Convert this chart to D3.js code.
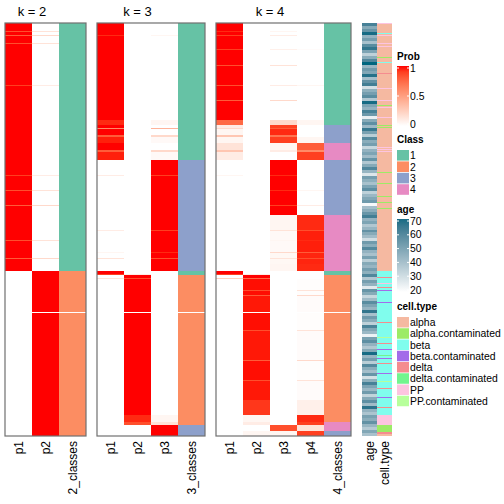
<!DOCTYPE html>
<html><head><meta charset="utf-8">
<script src="https://cdn.jsdelivr.net/npm/d3@7"></script>
<style>body{margin:0;background:#fff}svg text{font-family:"Liberation Sans",Arial,sans-serif}</style>
</head><body><svg id="c" width="504" height="504"></svg>
<script>
// ---- data ----
const blockRows = [8,1,3,1,7,1,5,1,15,1,19,1,14,1,19,5,3,1,6,2,6,7,2,8,15,1,14,1,14,1,9,15,1,9,1,11,1,5,1,5,7,3,1,3,1,11,1,4,1,16,1,17,1,29,1,19,1,19,15,7,3,6,5];
const class2 = [1,1,1,1,1,1,1,1,1,1,1,1,1,1,1,1,1,1,1,1,1,1,1,1,1,1,1,1,1,1,1,1,1,1,1,1,1,1,1,1,1,2,2,2,2,2,2,2,2,2,0,2,2,2,2,2,2,2,2,2,2,2,2];
const class3 = [1,1,1,1,1,1,1,1,1,1,1,1,1,1,1,1,1,1,1,1,1,1,1,1,3,3,3,3,3,3,3,3,3,3,3,3,3,3,3,3,3,1,1,2,2,2,2,2,2,2,0,2,2,2,2,2,2,2,2,2,2,3,3];
const class4 = [1,1,1,1,1,1,1,1,1,1,1,1,1,1,1,1,3,3,3,3,3,4,4,4,3,3,3,3,3,3,3,4,4,4,4,4,4,4,4,4,4,1,1,2,2,2,2,2,2,2,0,2,2,2,2,2,2,2,2,2,4,4,3,4];
const prob2 = [[1,0],[.85,.15],[1,0],[.8,.2],[1,0],[.85,.15],[1,0],[1,0],[1,0],[1,0],[1,0],[.9,.1],[1,0],[1,0],[1,0],[1,0],
 [1,0],[1,0],[1,0],[1,0],[1,0],[1,0],[1,0],[1,0],[1,0],[.9,.1],[1,0],[.85,.15],[1,0],[.8,.2],[1,0],
 [1,0],[1,0],[1,0],[.85,.15],[1,0],[1,0],[1,0],[.8,.2],[1,0],[1,0],
 [0,1],[0,1],[0,1],[0,1],[0,1],[0,1],[0,1],[0,1],[0,1],[0,0],[0,1],[0,1],[0,1],[0,1],[0,1],[0,1],[0,1],[0,1],[0,1],[0,1],[0,1],[0,1]];
const prob3 = [[1,0,0],[1,0,0],[1,0,0],[.95,0,.05],[1,0,0],[1,0,0],[1,0,0],[1,0,0],[1,0,0],[1,0,0],[1,0,0],[1,0,0],[1,0,0],[1,0,0],[1,0,0],[.95,0,.05],
 [1,0,0],[.6,0,.4],[1,0,0],[.8,0,.2],[.97,0,.03],[1,0,0],[.8,0,.2],[.97,0,.03],
 [0,0,1],[.1,0,.9],[0,0,1],[0,0,1],[0,0,1],[0,0,1],[0,0,1],[0,0,1],[.1,0,.9],[0,0,1],[0,0,1],[0,0,1],[.05,0,.95],[0,0,1],[.15,0,.85],[0,0,1],[0,0,1],
 [1,0,0],[.9,.1,0],
 [0,1,0],[.15,.85,0],[0,1,0],[0,1,0],[0,1,0],[0,1,0],[0,1,0],[0,0,0],[0,1,0],[0,1,0],[0,1,0],[0,1,0],[0,1,0],[0,1,0],[0,1,0],[0,1,0],[0,.95,.05],[0,.85,.15],
 [0,0,1],[0,0,1]];
const prob4 = [[1,0,0,0],[.95,0,.05,0],[1,0,0,0],[.9,0,.1,0],[1,0,0,0],[1,0,0,0],[1,0,0,0],[.9,0,.08,.02],[1,0,0,0],[.85,0,.15,0],[1,0,0,0],[.85,0,.1,.05],[1,0,0,0],[.8,0,.2,0],[1,0,0,0],[.75,0,.2,.05],
 [.1,0,.9,0],[.2,0,.8,0],[.05,0,.95,0],[.3,0,.7,0],[.05,0,.9,.05],
 [.15,0,.05,.8],[.3,0,.1,.6],[.1,0,0,.9],
 [0,0,1,0],[.05,0,.95,0],[0,0,1,0],[0,0,.95,.05],[0,0,1,0],[0,0,.9,.1],[0,0,1,0],
 [0,0,.05,.95],[0,0,.15,.85],[0,0,.03,.97],[0,0,.05,.95],[0,0,.03,.97],[0,0,.2,.8],[0,0,.04,.96],[0,0,.15,.85],[0,0,.04,.96],[0,0,.05,.95],
 [1,0,0,0],[.9,.1,0,0],
 [0,1,0,0],[.25,.75,0,0],[0,.99,0,.01],[0,.85,0,.15],[0,.99,0,.01],[0,.8,0,.2],[0,.98,0,.02],[0,0,0,0],[0,.99,0,.01],[0,.85,0,.15],[0,.98,0,.02],[0,.8,0,.2],[0,.99,0,.01],[0,.85,0,.15],[0,.98,0,.02],[0,.92,0,.08],
 [0,.05,0,.95],[0,.1,0,.9],
 [0,0,.85,.15],[0,.05,.05,.9]];
const ageValues = [62,48,55,70,45,52,40,58,66,50,35,47,60,72,44,53,49,68,41,56,63,30,46,52,58,38,70,50,45,62,54,25,48,57,43,65,51,36,59,
 47,52,33,45,50,42,55,38,48,60,44,28,52,46,40,50,57,35,43,49,53,22,41,47,55,63,45,50,38,44,56,48,42,31,53,47,59,45,40,51,36,48,44,52,
 46,60,38,52,45,27,55,48,33,42,58,50,44,66,40,53,47,35,61,49,43,24,51,57,45,38,48,70,44,52,36,59,47,41,55,30,46,62,50,43,53,34,48,57,42,67,45,39,51,47,56,44,37,49,40];
const cellTypeSeq = ["PP","alpha","beta","alpha","PP","alpha","PP","alpha","PP","alpha","alpha.contaminated","alpha","beta","alpha","delta","alpha","PP","alpha","PP","alpha","alpha.contaminated","alpha","PP","alpha","PP","alpha","alpha.contaminated","alpha","alpha.contaminated","alpha","PP","alpha","PP","alpha","PP","alpha","alpha.contaminated","alpha","alpha.contaminated","alpha","alpha.contaminated","alpha","alpha.contaminated","alpha","alpha.contaminated","alpha",
 "beta","delta","beta","PP","beta","delta","beta","beta.contaminated","beta","beta.contaminated","beta","delta","beta","PP.contaminated","beta","delta","beta","beta.contaminated","beta","delta.contaminated","beta","beta.contaminated","beta","delta","beta","beta.contaminated","beta","PP.contaminated","beta","delta","beta","beta.contaminated","beta","delta","beta","PP","alpha.contaminated","delta","alpha"];
const cellTypeRows = [1,9,1,1,1,7,1,2,1,10,1,4,1,10,1,14,1,11,1,4,1,1,1,9,1,7,1,1,1,19,1,1,1,1,1,20,1,10,1,12,1,5,1,5,1,62,
 6,1,5,1,3,1,2,1,11,1,19,1,14,1,5,1,5,1,5,1,2,1,4,1,9,1,7,1,6,1,8,1,9,1,7,10,7,2,2];
const classLabels = ["1","2","3","4"];
const cellTypes = ["alpha","alpha.contaminated","beta","beta.contaminated","delta","delta.contaminated","PP","PP.contaminated"];
const probTicks = [0,0.5,1];
const ageTicks = [20,30,40,50,60,70];

// ---- scales / colours ----
const probColor = d3.scaleLinear().domain([0,1]).range(["#ffffff","#ff0000"]).interpolate(d3.interpolateLab);
const classColor = d3.scaleOrdinal().domain(["0","1","2","3","4"]).range(["#ffffff","#66c2a5","#fc8d62","#8da0cb","#e78ac3"]);
const ageColor = d3.scaleLinear().domain([20,70]).range(["#ffffff","#176b84"]).interpolate(d3.interpolateLab);
const cellColor = d3.scaleOrdinal().domain(cellTypes).range(["#f5b9a1","#9ceb66","#80fded","#a36ce9","#f58c8f","#72f58e","#fdc4e0","#b7ff9b"]);

const svg = d3.select("#c");
const yTop = 23, yBottom = 436;
const totalRows = d3.sum(blockRows);
const y = d3.scaleLinear().domain([0,totalRows]).range([yTop,yBottom]);
const starts = []; let acc = 0; blockRows.forEach(n=>{starts.push(acc); acc+=n;});

const panels = [
  {k:2, x0:5, x1:86, cls:class2, prob:prob2},
  {k:3, x0:97, x1:205, cls:class3, prob:prob3},
  {k:4, x0:216, x1:351, cls:class4, prob:prob4}
];
panels.forEach(p=>{
  const cols = d3.range(p.k).map(i=>"p"+(i+1)).concat([p.k+"_classes"]);
  const x = d3.scaleBand().domain(cols).range([p.x0,p.x1]);
  const g = svg.append("g");
  blockRows.forEach((n,i)=>{
    const y0 = y(starts[i]), y1 = y(starts[i]+n);
    p.prob[i].forEach((v,j)=>{
      g.append("rect").attr("x",x(cols[j])).attr("y",y0).attr("width",x.bandwidth()).attr("height",y1-y0)
        .attr("fill",probColor(v)).attr("shape-rendering","crispEdges");
    });
    g.append("rect").attr("x",x(cols[p.k])).attr("y",y0).attr("width",x.bandwidth()).attr("height",y1-y0)
      .attr("fill",classColor(String(p.cls[i]))).attr("shape-rendering","crispEdges");
  });
  g.append("rect").attr("x",p.x0).attr("y",yTop).attr("width",p.x1-p.x0).attr("height",yBottom-yTop)
    .attr("fill","none").attr("stroke","#707070").attr("stroke-width",1.2);
  svg.append("text").attr("x",(x("p1")+x(cols[p.k-1])+x.bandwidth())/2).attr("y",16)
    .attr("text-anchor","middle").attr("font-size",13).text("k = "+p.k);
  cols.forEach(c=>{
    svg.append("text").attr("transform",`translate(${x(c)+x.bandwidth()/2},441) rotate(-90)`)
      .attr("text-anchor","end").attr("dy","0.35em").attr("font-size",12).text(c);
  });
});

// annotations
const annX = d3.scaleBand().domain(["age","cell.type"]).range([362,392]).paddingInner(0.05);
const ageY = d3.scaleBand().domain(d3.range(ageValues.length)).range([yTop,yBottom]);
ageValues.forEach((v,i)=>{
  svg.append("rect").attr("x",annX("age")).attr("y",ageY(i)).attr("width",annX.bandwidth()).attr("height",ageY.bandwidth())
    .attr("fill",ageColor(v)).attr("shape-rendering","crispEdges");
});
const ctTotal = d3.sum(cellTypeRows);
const ctY = d3.scaleLinear().domain([0,ctTotal]).range([yTop,yBottom]);
let ca = 0;
cellTypeSeq.forEach((t,i)=>{
  svg.append("rect").attr("x",annX("cell.type")).attr("y",ctY(ca)).attr("width",annX.bandwidth()).attr("height",ctY(ca+cellTypeRows[i])-ctY(ca))
    .attr("fill",cellColor(t)).attr("shape-rendering","crispEdges");
  ca += cellTypeRows[i];
});
["age","cell.type"].forEach(c=>{
  svg.append("text").attr("transform",`translate(${annX(c)+annX.bandwidth()/2},441) rotate(-90)`)
    .attr("text-anchor","end").attr("dy","0.35em").attr("font-size",12).text(c);
});

// legends
const lx = 397, sw = 12;
function title(t,yy){svg.append("text").attr("x",lx).attr("y",yy).attr("font-size",10).attr("font-weight","bold").text(t);}
function label(t,yy){svg.append("text").attr("x",lx+sw+1).attr("y",yy).attr("dy","0.35em").attr("font-size",10.4).text(t);}
const defs = svg.append("defs");
title("Prob",60);
const pg = defs.append("linearGradient").attr("id","pg").attr("x1",0).attr("y1",1).attr("x2",0).attr("y2",0);
d3.range(0,1.01,0.1).forEach(t=>pg.append("stop").attr("offset",t).attr("stop-color",probColor(t)));
const py = d3.scaleLinear().domain([0,1]).range([124,68]);
svg.append("rect").attr("x",lx).attr("y",66).attr("width",sw).attr("height",60).attr("fill","url(#pg)");
probTicks.forEach(t=>{
  svg.append("line").attr("x1",lx).attr("x2",lx+2).attr("y1",py(t)).attr("y2",py(t)).attr("stroke","#fff");
  svg.append("line").attr("x1",lx+sw-2).attr("x2",lx+sw).attr("y1",py(t)).attr("y2",py(t)).attr("stroke","#fff");
  label(String(t),py(t));
});
title("Class",143);
classLabels.forEach((c,i)=>{
  svg.append("rect").attr("x",lx).attr("y",150+i*11.4).attr("width",sw).attr("height",10.6).attr("fill",classColor(c));
  label(c,150+i*11.4+5.5);
});
title("age",213);
const ag = defs.append("linearGradient").attr("id","ag").attr("x1",0).attr("y1",1).attr("x2",0).attr("y2",0);
d3.range(0,1.01,0.1).forEach(t=>ag.append("stop").attr("offset",t).attr("stop-color",ageColor(20+50*t)));
const ay = d3.scaleLinear().domain([20,70]).range([290,221]);
svg.append("rect").attr("x",lx).attr("y",219).attr("width",sw).attr("height",73).attr("fill","url(#ag)");
ageTicks.forEach(t=>{
  svg.append("line").attr("x1",lx).attr("x2",lx+2).attr("y1",ay(t)).attr("y2",ay(t)).attr("stroke","#fff");
  svg.append("line").attr("x1",lx+sw-2).attr("x2",lx+sw).attr("y1",ay(t)).attr("y2",ay(t)).attr("stroke","#fff");
  label(String(t),ay(t));
});
title("cell.type",310);
cellTypes.forEach((c,i)=>{
  svg.append("rect").attr("x",lx).attr("y",317+i*11.25).attr("width",sw).attr("height",10.5).attr("fill",cellColor(c));
  label(c,317+i*11.25+5.5);
});
</script></body></html>
